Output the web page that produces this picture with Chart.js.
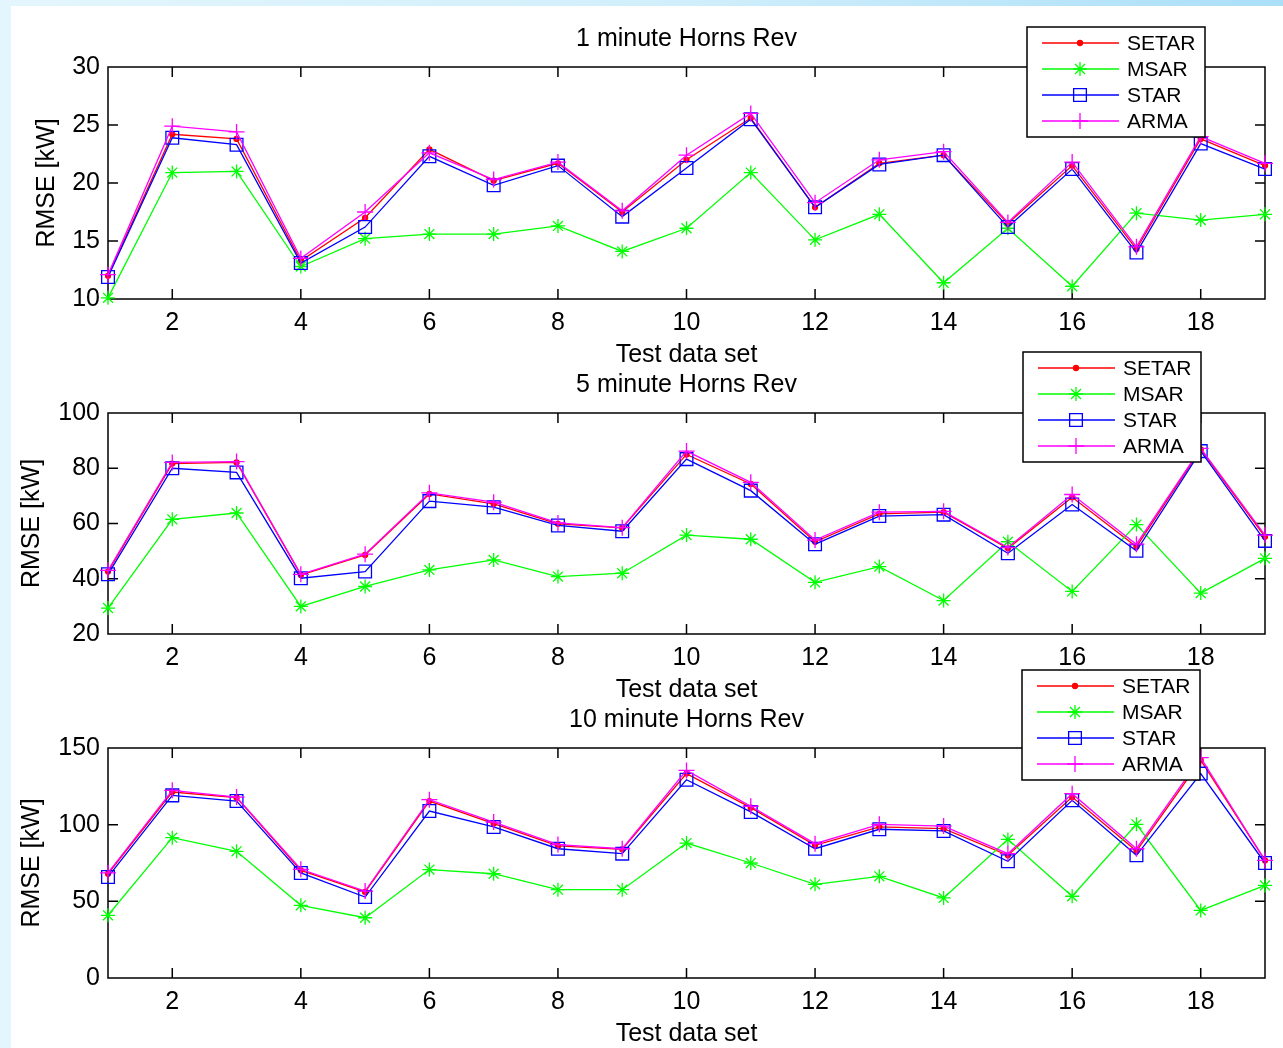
<!DOCTYPE html>
<html>
<head>
<meta charset="utf-8">
<title>RMSE Horns Rev</title>
<script src="https://cdn.jsdelivr.net/npm/chart.js@4.4.1/dist/chart.umd.min.js"></script>
<style>
    html, body { margin: 0; padding: 0; }
    body {
        width: 1283px; height: 1048px; overflow: hidden; position: relative;
        background: linear-gradient(90deg, #e4f6fd 0%, #cfeefb 55%, #abdff8 100%);
    }
    #sheet { position: absolute; left: 11px; top: 6px; right: 0; bottom: 0; background: #fff; }
    .plot { position: absolute; left: 0; }
</style>
</head>
<body>
<div id="sheet"></div>
<canvas id="plot1" class="plot"></canvas>
<canvas id="plot5" class="plot"></canvas>
<canvas id="plot10" class="plot"></canvas>

<script>
/* ================== DADOS ================== */
const testSets = [1, 2, 3, 4, 5, 6, 7, 8, 9, 10, 11, 12, 13, 14, 15, 16, 17, 18, 19];
const xTickValues = [2, 4, 6, 8, 10, 12, 14, 16, 18];
const modelNames = ["SETAR", "MSAR", "STAR", "ARMA"];

// 1 minute
const setar1 = [12.0, 24.2, 23.8, 13.3, 17.0, 22.9, 20.2, 21.7, 17.5, 22.0, 25.6, 17.9, 21.7, 22.4, 16.5, 21.5, 14.3, 23.8, 21.5];
const msar1  = [10.1, 20.9, 21.0, 12.8, 15.2, 15.6, 15.6, 16.3, 14.1, 16.1, 20.9, 15.1, 17.3, 11.4, 16.1, 11.1, 17.4, 16.8, 17.3];
const star1  = [11.9, 23.9, 23.3, 13.1, 16.2, 22.3, 19.8, 21.5, 17.1, 21.3, 25.5, 17.9, 21.6, 22.4, 16.2, 21.2, 14.0, 23.4, 21.2];
const arma1  = [12.1, 24.9, 24.4, 13.5, 17.5, 22.6, 20.3, 21.8, 17.6, 22.4, 26.0, 18.3, 22.0, 22.7, 16.6, 21.8, 14.5, 24.0, 21.7];
const yTicks1 = [10, 15, 20, 25, 30];

// 5 minute
const setar5 = [42.6, 81.7, 82.1, 41.4, 48.6, 70.7, 67.1, 59.9, 58.4, 85.0, 74.3, 53.4, 63.5, 64.1, 51.0, 69.5, 51.6, 86.8, 55.2];
const msar5  = [29.4, 61.5, 63.8, 30.0, 37.2, 43.2, 46.8, 40.8, 42.0, 55.8, 54.3, 38.7, 44.4, 32.1, 53.4, 35.4, 59.6, 34.8, 47.4];
const star5  = [41.6, 80.0, 78.5, 40.2, 42.6, 68.1, 65.9, 59.3, 57.2, 83.3, 71.9, 52.5, 62.7, 63.2, 49.2, 66.9, 50.1, 86.2, 53.7];
const arma5  = [43.0, 82.1, 82.4, 41.6, 48.9, 71.1, 67.7, 60.2, 58.5, 86.2, 74.9, 54.0, 64.1, 64.4, 51.3, 70.5, 52.5, 87.2, 55.8];
const yTicks5 = [20, 40, 60, 80, 100];

// 10 minute
const setar10 = [68.0, 121.3, 117.6, 70.2, 56.1, 115.4, 100.7, 86.1, 83.9, 133.3, 111.1, 86.5, 98.5, 97.4, 80.0, 118.0, 82.8, 142.0, 76.7];
const msar10  = [40.9, 91.5, 82.6, 47.4, 39.3, 70.7, 68.0, 57.6, 57.6, 88.0, 75.0, 61.1, 66.3, 52.2, 90.4, 53.3, 100.2, 44.1, 60.4];
const star10  = [65.9, 119.1, 115.4, 68.5, 52.8, 108.9, 98.5, 84.3, 81.1, 129.3, 108.3, 84.3, 97.0, 95.9, 76.1, 115.9, 80.0, 133.3, 75.0];
const arma10  = [68.5, 122.4, 118.0, 70.9, 56.7, 116.3, 101.7, 87.0, 84.3, 135.4, 112.0, 87.6, 100.2, 99.1, 81.1, 120.2, 84.3, 143.7, 76.7];
const yTicks10 = [0, 50, 100, 150];

/* ================== ESTILO ================== */
const FONT = "'Liberation Sans', Arial, Helvetica, sans-serif";
Chart.defaults.font.family = FONT;
Chart.defaults.color = '#000';

const seriesStyle = [
    { color: '#ff0000', pointStyle: 'circle', radius: 2.5, fill: '#ff0000', order: 3 },
    { color: '#00ff00', pointStyle: 'star',   radius: 7,   fill: '#00ff00', order: 2 },
    { color: '#0000ff', pointStyle: 'rect',   radius: 9,   fill: 'rgba(0,0,0,0)', order: 1 },
    { color: '#ff00ff', pointStyle: 'cross',  radius: 8,   fill: '#ff00ff', order: 0 }
];

// moldura estilo matlab: caixa + ticks para dentro nos 4 lados
const framePlugin = {
    id: 'matlabFrame',
    beforeDatasetsDraw(chart) {
        const { ctx, chartArea: a, scales: { x, y } } = chart;
        const len = 10;
        ctx.save();
        ctx.strokeStyle = '#000';
        ctx.lineWidth = 1.5;
        ctx.beginPath();
        x.ticks.forEach(t => {
            const px = x.getPixelForValue(t.value);
            ctx.moveTo(px, a.bottom); ctx.lineTo(px, a.bottom - len);
            ctx.moveTo(px, a.top); ctx.lineTo(px, a.top + len);
        });
        y.ticks.forEach(t => {
            if (t.value === y.min || t.value === y.max) return;
            const py = y.getPixelForValue(t.value);
            ctx.moveTo(a.left, py); ctx.lineTo(a.left + len, py);
            ctx.moveTo(a.right, py); ctx.lineTo(a.right - len, py);
        });
        ctx.stroke();
        ctx.strokeRect(a.left, a.top, a.right - a.left, a.bottom - a.top);
        ctx.restore();
    }
};

// legenda em caixa por cima de tudo
const boxLegendPlugin = {
    id: 'boxLegend',
    afterDraw(chart, args, opts) {
        const { ctx, chartArea: a } = chart;
        const left = opts.left, top = a.top + opts.dy;
        const w = 178, h = 110;
        ctx.save();
        ctx.fillStyle = '#fff';
        ctx.fillRect(left, top, w, h);
        ctx.strokeStyle = '#000';
        ctx.lineWidth = 1.5;
        ctx.strokeRect(left, top, w, h);
        chart.data.datasets.forEach((ds, i) => {
            const st = seriesStyle[i];
            const ry = top + 16 + i * 26;
            ctx.strokeStyle = st.color;
            ctx.lineWidth = 1.3;
            ctx.beginPath();
            ctx.moveTo(left + 15, ry); ctx.lineTo(left + 92, ry);
            ctx.stroke();
            ctx.fillStyle = st.fill;
            if (Chart.helpers && Chart.helpers.drawPoint) {
                Chart.helpers.drawPoint(ctx, { pointStyle: st.pointStyle, radius: st.radius, borderWidth: 1.3, rotation: 0 }, left + 53, ry);
            }
            ctx.fillStyle = '#000';
            ctx.font = '21px ' + FONT;
            ctx.textBaseline = 'middle';
            ctx.textAlign = 'left';
            ctx.fillText(ds.label, left + 100, ry + 1);
        });
        ctx.restore();
    }
};

/* ================== GRAFICOS ================== */
function makePlot(id, chartTop, chartHeight, title, series, yTicks, yTitlePad, legendPos) {
    const canvas = document.getElementById(id);
    const width = 1283, height = 90 + chartHeight + 80;
    canvas.width = width; canvas.height = height;
    canvas.style.top = (chartTop - 90) + 'px';
    canvas.style.width = width + 'px'; canvas.style.height = height + 'px';

    const datasets = series.map((vals, i) => {
        const st = seriesStyle[i];
        return {
            label: modelNames[i],
            data: testSets.map((x, k) => ({ x: x, y: vals[k] })),
            borderColor: st.color,
            backgroundColor: st.fill,
            borderWidth: 1.3,
            pointStyle: st.pointStyle,
            pointRadius: st.radius,
            pointBorderWidth: 1.3,
            pointBorderColor: st.color,
            pointBackgroundColor: st.fill,
            tension: 0,
            clip: false,
            order: st.order
        };
    });

    return new Chart(canvas, {
        type: 'line',
        data: { datasets },
        plugins: [framePlugin, boxLegendPlugin],
        options: {
            responsive: false,
            animation: false,
            devicePixelRatio: 1,
            layout: { padding: { top: 23, left: 0, right: 18, bottom: 0 } },
            plugins: {
                legend: { display: false },
                tooltip: { enabled: false },
                title: {
                    display: true, text: title, fullSize: false,
                    color: '#000', font: { size: 25, weight: 'normal' },
                    padding: { top: 24, bottom: 13 }
                },
                boxLegend: legendPos
            },
            scales: {
                x: {
                    type: 'linear', min: 1, max: 19,
                    afterBuildTicks: s => { s.ticks = xTickValues.map(v => ({ value: v })); },
                    afterFit: s => { s.height = 80; },
                    grid: { display: false, drawTicks: false },
                    border: { display: false },
                    ticks: { font: { size: 25 }, color: '#000', padding: 9, maxRotation: 0, autoSkip: false },
                    title: { display: true, text: 'Test data set', font: { size: 25 }, color: '#000', padding: { top: 0, bottom: 9 } }
                },
                y: {
                    min: yTicks[0], max: yTicks[yTicks.length - 1],
                    afterBuildTicks: s => { s.ticks = yTicks.map(v => ({ value: v })); },
                    afterFit: s => { s.width = 108; },
                    grid: { display: false, drawTicks: false },
                    border: { display: false },
                    ticks: { font: { size: 25 }, color: '#000', padding: 8 },
                    title: { display: true, text: 'RMSE [kW]', font: { size: 25 }, color: '#000', padding: { top: yTitlePad, bottom: 0 } }
                }
            }
        }
    });
}

makePlot('plot1', 67, 232, '1 minute Horns Rev', [setar1, msar1, star1, arma1], yTicks1, 32, { left: 1027, dy: -40 });
makePlot('plot5', 413, 221, '5 minute Horns Rev', [setar5, msar5, star5, arma5], yTicks5, 17, { left: 1023, dy: -61 });
makePlot('plot10', 748, 230, '10 minute Horns Rev', [setar10, msar10, star10, arma10], yTicks10, 17, { left: 1022, dy: -78 });
</script>
</body>
</html>
